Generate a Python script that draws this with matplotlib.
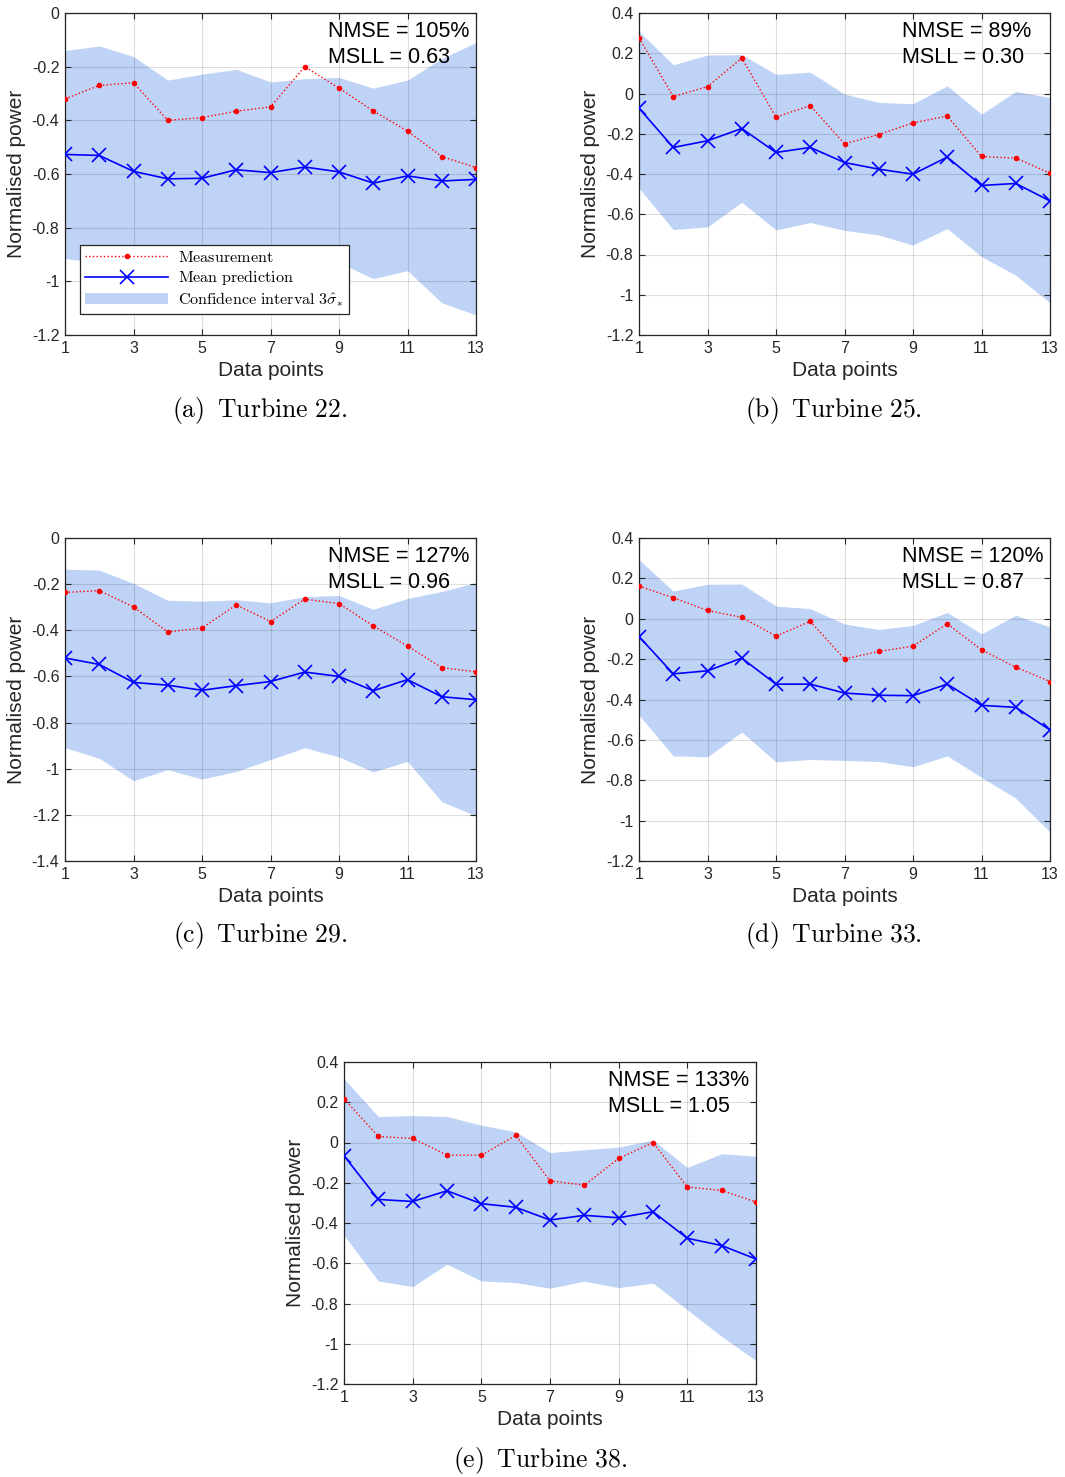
import numpy as np
import matplotlib
matplotlib.use("Agg")
import matplotlib.pyplot as plt
from matplotlib.patches import Patch
from matplotlib.lines import Line2D

plt.rcParams['font.family'] = ['Liberation Sans', 'DejaVu Sans']
plt.rcParams['mathtext.fontset'] = 'cm'
plt.rcParams['axes.unicode_minus'] = False

points = np.arange(1, 14)

# Turbine 22
meas_22 = [-0.32, -0.27, -0.26, -0.40, -0.39, -0.366, -0.35, -0.20, -0.28, -0.365, -0.44, -0.535, -0.576]
pred_22 = [-0.527, -0.531, -0.59, -0.618, -0.616, -0.584, -0.595, -0.574, -0.592, -0.634, -0.607, -0.626, -0.62]
upper_22 = [-0.14, -0.123, -0.162, -0.25, -0.228, -0.21, -0.257, -0.245, -0.24, -0.28, -0.25, -0.17, -0.11]
lower_22 = [-0.915, -0.93, -1.0, -0.97, -1.0, -0.97, -0.93, -0.88, -0.93, -0.99, -0.96, -1.08, -1.125]

# Turbine 25
meas_25 = [0.276, -0.015, 0.034, 0.176, -0.117, -0.06, -0.25, -0.204, -0.146, -0.112, -0.313, -0.321, -0.396]
pred_25 = [-0.073, -0.268, -0.235, -0.174, -0.293, -0.268, -0.343, -0.376, -0.401, -0.316, -0.457, -0.447, -0.534]
upper_25 = [0.309, 0.143, 0.191, 0.193, 0.095, 0.106, -0.003, -0.044, -0.051, 0.038, -0.102, 0.01, -0.02]
lower_25 = [-0.47, -0.676, -0.663, -0.54, -0.678, -0.641, -0.68, -0.703, -0.753, -0.671, -0.81, -0.903, -1.04]

# Turbine 29
meas_29 = [-0.236, -0.228, -0.299, -0.407, -0.39, -0.29, -0.362, -0.265, -0.284, -0.381, -0.468, -0.562, -0.58]
pred_29 = [-0.52, -0.548, -0.626, -0.638, -0.66, -0.64, -0.622, -0.581, -0.60, -0.662, -0.614, -0.688, -0.701]
upper_29 = [-0.135, -0.139, -0.197, -0.27, -0.274, -0.268, -0.281, -0.254, -0.249, -0.309, -0.262, -0.232, -0.193]
lower_29 = [-0.909, -0.955, -1.052, -1.004, -1.045, -1.012, -0.96, -0.909, -0.949, -1.014, -0.968, -1.143, -1.204]

# Turbine 33
meas_33 = [0.162, 0.104, 0.041, 0.007, -0.086, -0.013, -0.199, -0.162, -0.136, -0.025, -0.154, -0.24, -0.311]
pred_33 = [-0.088, -0.273, -0.258, -0.195, -0.324, -0.324, -0.368, -0.379, -0.381, -0.324, -0.429, -0.439, -0.551]
upper_33 = [0.293, 0.137, 0.171, 0.172, 0.063, 0.05, -0.026, -0.053, -0.033, 0.031, -0.075, 0.017, -0.041]
lower_33 = [-0.477, -0.679, -0.684, -0.561, -0.709, -0.697, -0.702, -0.707, -0.733, -0.679, -0.786, -0.889, -1.056]

# Turbine 38
meas_38 = [0.217, 0.03, 0.02, -0.063, -0.063, 0.035, -0.19, -0.212, -0.079, 0.0, -0.221, -0.238, -0.296]
pred_38 = [-0.066, -0.283, -0.293, -0.24, -0.304, -0.322, -0.385, -0.362, -0.374, -0.344, -0.476, -0.512, -0.579]
upper_38 = [0.317, 0.129, 0.134, 0.129, 0.086, 0.053, -0.05, -0.036, -0.023, 0.012, -0.124, -0.056, -0.068]
lower_38 = [-0.46, -0.688, -0.716, -0.605, -0.688, -0.696, -0.724, -0.689, -0.721, -0.699, -0.831, -0.964, -1.083]

nmse = ['105%', '89%', '127%', '120%', '133%']
msll = ['0.63', '0.30', '0.96', '0.87', '1.05']
captions = ['(a)', '(b)', '(c)', '(d)', '(e)']
turbines = ['22', '25', '29', '33', '38']

W, H = 1065, 1477
fig = plt.figure(figsize=(W / 100, H / 100), dpi=100)
fill_color = '#bfd3f6'
dark = '#262626'


def make_axes(left, top, right, bottom):
    return fig.add_axes([left / W, 1 - bottom / H, (right - left) / W, (bottom - top) / H])


def draw_panel(ax, meas, pred, upper, lower, ylim, k):
    ax.fill_between(points, lower, upper, color=fill_color, linewidth=0, zorder=1)
    ax.plot(points, meas, color='red', linestyle=':', linewidth=1.0, marker='.',
            markersize=6, zorder=4)
    ax.plot(points, pred, color='blue', linestyle='-', linewidth=1.2, marker='x',
            markersize=10, markeredgewidth=1.2, zorder=4)
    ax.set_xlim(1, 13)
    ax.set_ylim(*ylim)
    ax.set_xticks(np.arange(1, 14, 2))
    yt = np.round(np.arange(ylim[0], ylim[1] + 0.01, 0.2), 1)
    ax.set_yticks(yt)
    ax.set_yticklabels(['%g' % v if v != 0 else '0' for v in yt])
    ax.grid(True, color='k', alpha=0.13, linewidth=0.8)
    ax.set_axisbelow(False)
    ax.tick_params(direction='in', top=True, right=True, length=4, width=0.8,
                   labelsize=11.5, colors=dark, pad=4)
    for s in ax.spines.values():
        s.set_color(dark)
        s.set_linewidth(0.9)
    ax.set_xlabel('Data points', fontsize=15, color=dark, labelpad=4)
    ax.set_ylabel('Normalised power', fontsize=15, color=dark, labelpad=4)
    ax.text(0.64, 0.975, 'NMSE = %s\nMSLL = %s' % (nmse[k], msll[k]),
            transform=ax.transAxes, ha='left', va='top', fontsize=15.5,
            linespacing=1.3, color='k', zorder=6)


boxes = [(65, 13, 476, 335), (639, 13, 1050, 335),
         (65, 538, 476, 861), (639, 538, 1050, 861),
         (344, 1062, 756, 1384)]
series = [(meas_22, pred_22, upper_22, lower_22, (-1.2, 0)),
          (meas_25, pred_25, upper_25, lower_25, (-1.2, 0.4)),
          (meas_29, pred_29, upper_29, lower_29, (-1.4, 0)),
          (meas_33, pred_33, upper_33, lower_33, (-1.2, 0.4)),
          (meas_38, pred_38, upper_38, lower_38, (-1.2, 0.4))]
caption_pos = [(260, 411), (833, 411), (260, 936), (833, 936), (540, 1460)]

axes = []
for k, (box, s) in enumerate(zip(boxes, series)):
    ax = make_axes(*box)
    draw_panel(ax, *s, k)
    axes.append(ax)
    cx, cy = caption_pos[k]
    fig.text(cx / W, 1 - cy / H,
             r'$\mathrm{%s\;\;Turbine\ %s.}$' % (captions[k], turbines[k]),
             ha='center', va='center', fontsize=18.5)

handles = [
    Line2D([], [], color='red', linestyle=':', linewidth=1.0, marker='.', markersize=6),
    Line2D([], [], color='blue', linestyle='-', linewidth=1.2, marker='x',
           markersize=10, markeredgewidth=1.2),
    Patch(facecolor=fill_color, edgecolor='none'),
]
labels = [r'$\mathrm{Measurement}$', r'$\mathrm{Mean\ prediction}$',
          r'$\mathrm{Confidence\ interval\ }3\hat{\sigma}_{*}$']
leg = axes[0].legend(handles, labels, loc='lower left', bbox_to_anchor=(0.036, 0.065),
                     borderaxespad=0, fontsize=11.6, handlelength=5.2, handletextpad=0.6,
                     labelspacing=0.2, borderpad=0.3, fancybox=False, framealpha=1)
leg.get_frame().set_edgecolor(dark)
leg.get_frame().set_linewidth(0.9)
leg.set_zorder(10)

fig.savefig('out.png', dpi=100)
